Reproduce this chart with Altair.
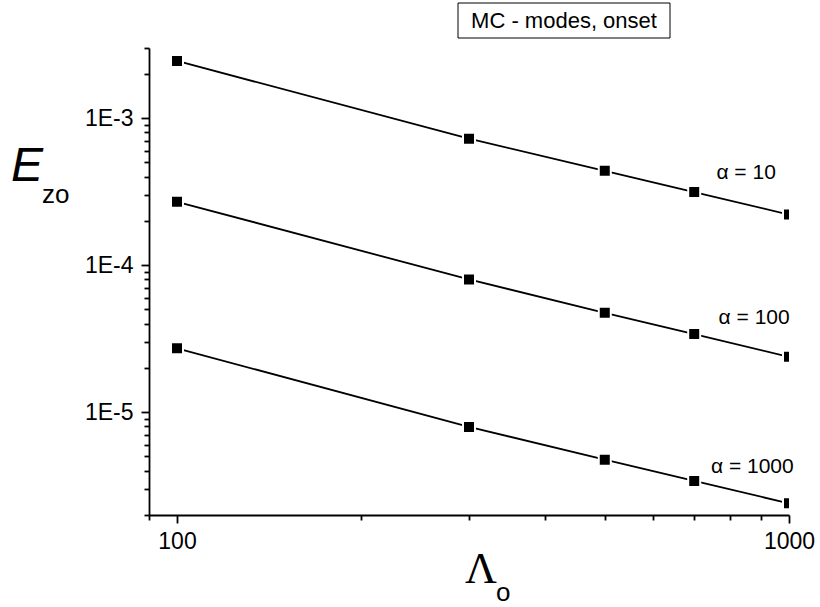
import altair as alt
import pandas as pd

# ---- data ----
lambda_o = [100, 300, 500, 700, 1000]
e_alpha10 = [2.45e-3, 7.25e-4, 4.38e-4, 3.14e-4, 2.21e-4]
e_alpha100 = [2.70e-4, 8.0e-5, 4.74e-5, 3.40e-5, 2.38e-5]
e_alpha1000 = [2.72e-5, 7.95e-6, 4.76e-6, 3.41e-6, 2.40e-6]
series_names = ["α = 10", "α = 100", "α = 1000"]

label_x = [851, 877, 871]
label_y = [4.22e-4, 4.36e-5, 4.23e-6]

x_ticks = [90, 100, 200, 300, 400, 500, 600, 700, 800, 900, 1000]
y_ticks = [2e-6, 3e-6, 4e-6, 5e-6, 6e-6, 7e-6, 8e-6, 9e-6,
           1e-5, 2e-5, 3e-5, 4e-5, 5e-5, 6e-5, 7e-5, 8e-5, 9e-5,
           1e-4, 2e-4, 3e-4, 4e-4, 5e-4, 6e-4, 7e-4, 8e-4, 9e-4,
           1e-3, 2e-3, 3e-3]

title_text = "MC - modes, onset"

rows = []
for name, vals in zip(series_names, [e_alpha10, e_alpha100, e_alpha1000]):
    for xv, yv in zip(lambda_o, vals):
        rows.append({"series": name, "L": xv, "E": yv})
df = pd.DataFrame(rows)
df_lab = pd.DataFrame({"series": series_names, "L": label_x, "E": label_y})

FONT = "Liberation Sans"

is_decade = "abs(log(datum.value)/LN10 - round(log(datum.value)/LN10)) < 1e-6"

x_enc = alt.X(
    "L:Q",
    scale=alt.Scale(type="log", domain=[90, 1000], nice=False),
    axis=alt.Axis(
        values=x_ticks,
        labelExpr="(datum.value == 100 || datum.value == 1000) ? format(datum.value, 'd') : ''",
        tickSize={"condition": {"test": "datum.value == 100 || datum.value == 1000", "value": 8}, "value": 5},
        title=None, grid=False, labelFont=FONT, labelFontSize=23, labelColor="black",
        domainColor="black", domainWidth=1.8, tickColor="black", tickWidth=1.8,
        labelPadding=7, labelFlush=False, labelOverlap=False,
    ),
)
y_enc = alt.Y(
    "E:Q",
    scale=alt.Scale(type="log", domain=[2e-6, 3e-3], nice=False),
    axis=alt.Axis(
        values=y_ticks,
        labelExpr=f"({is_decade}) ? '1E' + round(log(datum.value)/LN10) : ''",
        tickSize={"condition": {"test": is_decade, "value": 8}, "value": 5},
        title=None, grid=False, labelFont=FONT, labelFontSize=23, labelColor="black",
        domainColor="black", domainWidth=1.8, tickColor="black", tickWidth=1.8,
        labelPadding=8, labelFlush=False, labelOverlap=False,
    ),
)

lines = alt.Chart(df).mark_line(color="black", strokeWidth=1.8, clip=True).encode(
    x=x_enc, y=y_enc, detail="series:N"
)
points = alt.Chart(df).mark_square(
    color="black", opacity=1, size=144, filled=True, stroke="white", strokeWidth=2, clip=True
).encode(x="L:Q", y="E:Q")

labels = alt.Chart(df_lab).mark_text(
    font=FONT, fontSize=21, color="black", align="center", baseline="middle"
).encode(x="L:Q", y="E:Q", text="series:N")

title_box = alt.Chart(pd.DataFrame({"t": [title_text]})).mark_rect(
    fill="white", stroke="black", strokeWidth=1
).encode(x=alt.value(309), x2=alt.value(521), y=alt.value(-45), y2=alt.value(-10))
title_lbl = alt.Chart(pd.DataFrame({"t": [title_text]})).mark_text(
    font=FONT, fontSize=22, color="black", align="center", baseline="middle"
).encode(x=alt.value(415), y=alt.value(-27), text="t:N")

ylab_main = alt.Chart(pd.DataFrame({"t": ["E"]})).mark_text(
    font=FONT, fontSize=48, fontStyle="italic", color="black", align="left", baseline="alphabetic"
).encode(x=alt.value(-138), y=alt.value(133), text="t:N")
ylab_sub = alt.Chart(pd.DataFrame({"t": ["zo"]})).mark_text(
    font=FONT, fontSize=26, color="black", align="left", baseline="alphabetic"
).encode(x=alt.value(-107), y=alt.value(155), text="t:N")

xlab_main = alt.Chart(pd.DataFrame({"t": ["Λ"]})).mark_text(
    font="Liberation Serif", fontSize=44, color="black", align="left", baseline="alphabetic"
).encode(x=alt.value(316), y=alt.value(535), text="t:N")
xlab_sub = alt.Chart(pd.DataFrame({"t": ["o"]})).mark_text(
    font=FONT, fontSize=26, color="black", align="left", baseline="alphabetic"
).encode(x=alt.value(347), y=alt.value(553), text="t:N")

chart = alt.layer(
    lines, points, labels, title_box, title_lbl, ylab_main, ylab_sub, xlab_main, xlab_sub
).properties(
    width=640, height=467,
    autosize=alt.AutoSizeParams(type="none"),
    padding={"left": 149, "top": 48, "right": 31, "bottom": 92},
    background="white",
).configure_view(stroke=None)

chart.save("out.html", embed_options={"renderer": "svg", "actions": False})
